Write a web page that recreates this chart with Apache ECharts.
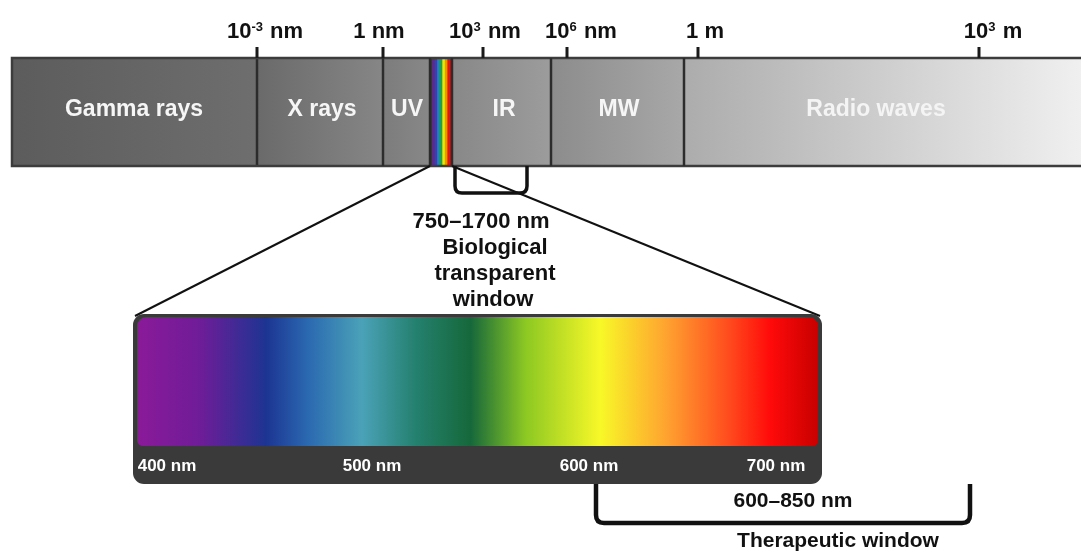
<!DOCTYPE html>
<html><head><meta charset="utf-8">
<script src="https://cdn.jsdelivr.net/npm/echarts@6/dist/echarts.min.js"></script>
<style>html,body{margin:0;padding:0;background:#fff}#c{width:1081px;height:554px}</style>
</head><body><div id="c"></div>
<script>
// ---- data (diagram units = axis units) ----
const bandNames = ['Gamma rays', 'X rays', 'UV', '', 'IR', 'MW', 'Radio waves'];
const bandEdges = [12, 257, 383, 430, 452, 551, 684, 1083];
const bandLabelCenters = [134, 322, 407, 441, 504, 619, 876];
const bandTop = 58, bandBottom = 166;
const tickLabels = ['10^-3 nm', '1 nm', '10^3 nm', '10^6 nm', '1 m', '10^3 m'];
const tickPositions = [257, 383, 483, 567, 698, 979];
const tickLabelCenters = [265, 379, 485, 581, 705, 993];
const visibleStripeColors = ['#5b2a8c', '#2a48b0', '#1d8aa6', '#22a048', '#f2e400', '#ff8a00', '#e01414'];
const spectrumWavelengths = [400, 500, 600, 700];
const spectrumLabelCenters = [167, 372, 589, 776];
const spectrumStops = [0, 0.09, 0.19, 0.25, 0.33, 0.41, 0.49, 0.57, 0.68, 0.78, 0.87, 0.93, 1];
const spectrumColors = ['#8a1a98', '#701c98', '#1c3592', '#2a68b0', '#4aa2b8', '#24806e', '#16683a', '#8cc822', '#f8f828', '#ffa030', '#ff4a1e', '#ff0a0a', '#c80000'];
const biologicalWindow = { fromX: 455, toX: 527, label: ['750\u20131700 nm', 'Biological', 'transparent', 'window'] };
const therapeuticWindow = { fromX: 596, toX: 970, range: '600\u2013850 nm', name: 'Therapeutic window' };

// ---- styles ----
const FONT = '"Liberation Sans", Arial, Helvetica, sans-serif';
const bandGrad = [['#5c5c5c', '#6e6e6e'], ['#6a6a6a', '#868686'], ['#7c7c7c', '#888888'], null,
  ['#888888', '#9c9c9c'], ['#8c8c8c', '#a8a8a8'], ['#acacac', '#f0f0f0']];

function toRich(s) {
  return '{b|' + s.replace(/\^(-?\d+)/, '}{s|$1}{b|') + '}';
}

const chart = echarts.init(document.getElementById('c'), null, { renderer: 'canvas' });

function lin(stops, colors) {
  return new echarts.graphic.LinearGradient(0, 0, 1, 0, stops.map((o, i) => ({ offset: o, color: colors[i] })));
}

const option = {
  animation: false,
  backgroundColor: '#ffffff',
  grid: { left: 0, right: 0, top: 0, bottom: 0 },
  xAxis: { type: 'value', min: 0, max: 1081, show: false },
  yAxis: { type: 'value', min: 0, max: 554, inverse: true, show: false },
  series: [
    // bands of the electromagnetic spectrum
    {
      type: 'custom', clip: false, silent: true,
      data: bandNames.map((n, i) => [bandEdges[i], bandEdges[i + 1], i, bandLabelCenters[i]]),
      renderItem: function (params, api) {
        const i = api.value(2);
        const p0 = api.coord([api.value(0), bandTop]);
        const p1 = api.coord([api.value(1), bandBottom]);
        const w = p1[0] - p0[0], h = p1[1] - p0[1];
        const children = [];
        if (bandGrad[i]) {
          const lp = api.coord([api.value(3), 110]);
          children.push({ type: 'rect', shape: { x: p0[0], y: p0[1], width: w, height: h },
            style: { fill: lin([0, 1], bandGrad[i]) } });
          children.push({ type: 'text', x: lp[0], y: lp[1],
            style: { text: bandNames[i], fill: i === 6 ? '#f4f4f4' : '#f6f6f6', font: 'bold 23px ' + FONT,
              align: 'center', verticalAlign: 'middle' } });
        } else {
          const n = visibleStripeColors.length;
          const sw = (w - 4) / n;
          children.push({ type: 'rect', shape: { x: p0[0], y: p0[1], width: w, height: h }, style: { fill: '#3a3a3a' } });
          visibleStripeColors.forEach((c, k) => {
            children.push({ type: 'rect', shape: { x: p0[0] + 2 + k * sw, y: p0[1], width: sw + 0.5, height: h },
              style: { fill: c } });
          });
        }
        return { type: 'group', children: children };
      }
    },
    // band separators + outline
    {
      type: 'custom', clip: false, silent: true,
      data: bandEdges.slice(1, -1).map(x => [x]),
      renderItem: function (params, api) {
        const a = api.coord([api.value(0), bandTop]);
        const b = api.coord([api.value(0), bandBottom]);
        const els = [{ type: 'line', shape: { x1: a[0], y1: a[1], x2: b[0], y2: b[1] },
          style: { stroke: '#2c2c2c', lineWidth: 2.5 } }];
        if (params.dataIndex === 0) {
          const o0 = api.coord([bandEdges[0], bandTop]);
          const o1 = api.coord([bandEdges[bandEdges.length - 1], bandBottom]);
          els.push({ type: 'rect', shape: { x: o0[0], y: o0[1], width: o1[0] - o0[0], height: o1[1] - o0[1] },
            style: { fill: null, stroke: '#3c3c3c', lineWidth: 2.5 } });
        }
        return { type: 'group', children: els };
      }
    },
    // wavelength ticks and labels
    {
      type: 'custom', clip: false, silent: true,
      data: tickPositions.map((x, i) => [x, tickLabelCenters[i], i]),
      renderItem: function (params, api) {
        const i = api.value(2);
        const a = api.coord([api.value(0), 47]);
        const b = api.coord([api.value(0), bandTop]);
        const l = api.coord([api.value(1), 32]);
        return { type: 'group', children: [
          { type: 'line', shape: { x1: a[0], y1: a[1], x2: b[0], y2: b[1] }, style: { stroke: '#1a1a1a', lineWidth: 3 } },
          { type: 'text', x: l[0], y: l[1], style: { text: toRich(tickLabels[i]), align: 'center', verticalAlign: 'middle',
            rich: {
              b: { font: 'bold 22px ' + FONT, fill: '#111', lineHeight: 26 },
              s: { font: 'bold 13px ' + FONT, fill: '#111', lineHeight: 26, padding: [0, 1, 10, 0] }
            } } }
        ] };
      }
    },
    // zoom lines from visible band to the spectrum
    {
      type: 'custom', clip: false, silent: true,
      data: [[bandEdges[3], 135], [bandEdges[4], 820]],
      renderItem: function (params, api) {
        const a = api.coord([api.value(0), bandBottom]);
        const b = api.coord([api.value(1), 316]);
        return { type: 'line', shape: { x1: a[0], y1: a[1], x2: b[0], y2: b[1] },
          style: { stroke: '#111', lineWidth: 2 } };
      }
    },
    // visible spectrum box
    {
      type: 'custom', clip: false, silent: true,
      data: [[133, 822]],
      renderItem: function (params, api) {
        const o0 = api.coord([api.value(0), 314]);
        const o1 = api.coord([api.value(1), 484]);
        const g0 = api.coord([api.value(0) + 4, 317]);
        const g1 = api.coord([api.value(1) - 4, 446]);
        const els = [
          { type: 'rect', shape: { x: o0[0], y: o0[1], width: o1[0] - o0[0], height: o1[1] - o0[1], r: 11 },
            style: { fill: '#3a3a3a' } },
          { type: 'rect', shape: { x: g0[0], y: g0[1], width: g1[0] - g0[0], height: g1[1] - g0[1], r: [9, 9, 6, 6] },
            style: { fill: lin(spectrumStops, spectrumColors) } }
        ];
        spectrumWavelengths.forEach((wl, k) => {
          const p = api.coord([spectrumLabelCenters[k], 466]);
          els.push({ type: 'text', x: p[0], y: p[1], style: { text: wl + ' nm', fill: '#ffffff',
            font: 'bold 17px ' + FONT, align: 'center', verticalAlign: 'middle' } });
        });
        return { type: 'group', children: els };
      }
    },
    // biological window bracket and text
    {
      type: 'custom', clip: false, silent: true,
      data: [[biologicalWindow.fromX, biologicalWindow.toX]],
      renderItem: function (params, api) {
        const a = api.coord([api.value(0), bandBottom]);
        const b = api.coord([api.value(1), 193]);
        const r = 7;
        const path = `M${a[0]} ${a[1]} L${a[0]} ${b[1] - r} Q${a[0]} ${b[1]} ${a[0] + r} ${b[1]} L${b[0] - r} ${b[1]} Q${b[0]} ${b[1]} ${b[0]} ${b[1] - r} L${b[0]} ${a[1]}`;
        const els = [{ type: 'path', shape: { pathData: path }, style: { fill: null, stroke: '#111', lineWidth: 3.5 } }];
        const ys = [222, 248, 274, 300];
        const xs = [481, 495, 495, 493];
        biologicalWindow.label.forEach((t, k) => {
          const p = api.coord([xs[k], ys[k]]);
          els.push({ type: 'text', x: p[0], y: p[1], style: { text: t, fill: '#111', font: 'bold 22px ' + FONT,
            align: 'center', verticalAlign: 'middle' } });
        });
        return { type: 'group', children: els };
      }
    },
    // therapeutic window bracket and text
    {
      type: 'custom', clip: false, silent: true,
      data: [[therapeuticWindow.fromX, therapeuticWindow.toX]],
      renderItem: function (params, api) {
        const a = api.coord([api.value(0), 484]);
        const b = api.coord([api.value(1), 523]);
        const r = 8;
        const path = `M${a[0]} ${a[1]} L${a[0]} ${b[1] - r} Q${a[0]} ${b[1]} ${a[0] + r} ${b[1]} L${b[0] - r} ${b[1]} Q${b[0]} ${b[1]} ${b[0]} ${b[1] - r} L${b[0]} ${a[1]}`;
        const t1 = api.coord([793, 501]);
        const t2 = api.coord([838, 541]);
        return { type: 'group', children: [
          { type: 'path', shape: { pathData: path }, style: { fill: null, stroke: '#111', lineWidth: 4.5 } },
          { type: 'text', x: t1[0], y: t1[1], style: { text: therapeuticWindow.range, fill: '#111', font: 'bold 21px ' + FONT,
            align: 'center', verticalAlign: 'middle' } },
          { type: 'text', x: t2[0], y: t2[1], style: { text: therapeuticWindow.name, fill: '#111', font: 'bold 21px ' + FONT,
            align: 'center', verticalAlign: 'middle' } }
        ] };
      }
    }
  ]
};
chart.setOption(option);
</script>
</body></html>
